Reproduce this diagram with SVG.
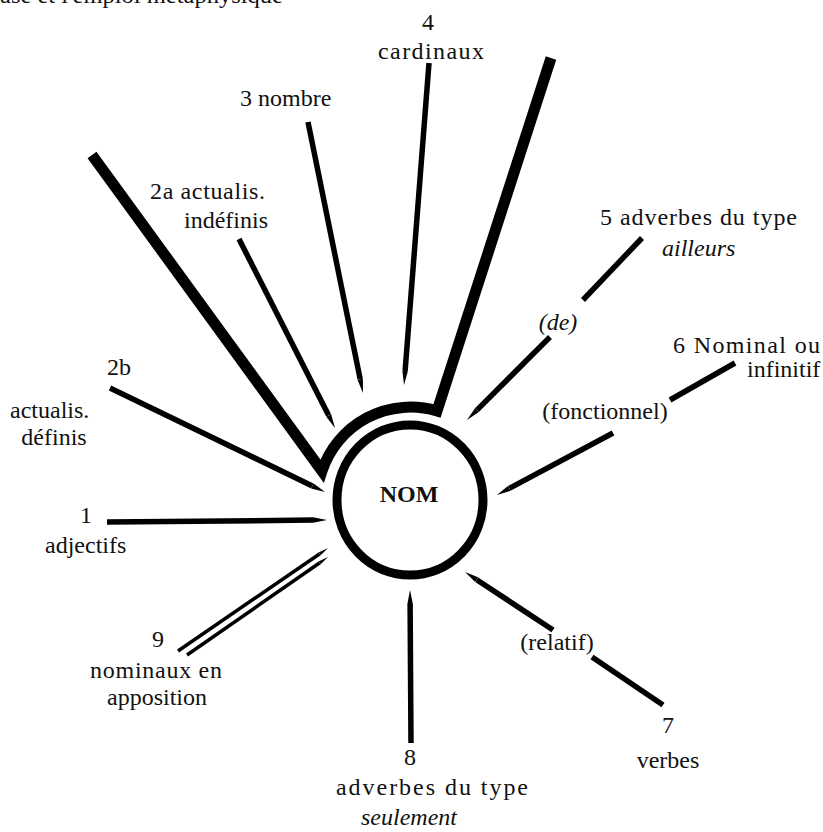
<svg xmlns="http://www.w3.org/2000/svg" width="823" height="832" viewBox="0 0 823 832">
<style>
text{font-family:"Liberation Serif","Times New Roman",serif;font-size:24px;fill:#111}
.it{font-style:italic}
.c{text-anchor:middle}
.ln{stroke:#000;stroke-width:5.5;fill:none;stroke-linecap:butt}
.tp{marker-end:url(#tip)}
.th{stroke:#000;stroke-width:3.5;fill:none;marker-end:url(#tip2)}
.big{stroke:#000;stroke-width:11;fill:none;stroke-linejoin:miter}
</style>
<defs>
  <marker id="tip" markerUnits="userSpaceOnUse" viewBox="0 -3 14 6" refX="0" refY="0" markerWidth="14" markerHeight="6" orient="auto">
    <path d="M0,-2.75 L14,0 L0,2.75 z" fill="#000"/>
  </marker>
  <marker id="tip2" markerUnits="userSpaceOnUse" viewBox="0 -2 10 4" refX="0" refY="0" markerWidth="10" markerHeight="4" orient="auto">
    <path d="M0,-1.75 L10,0 L0,1.75 z" fill="#000"/>
  </marker>
</defs>
<rect width="823" height="832" fill="#fff"/>
<text x="0" y="3" textLength="283" lengthAdjust="spacingAndGlyphs">ase et l'emploi métaphysique</text>

<g id="connectors">
  <path class="big" d="M92,155 L322,471 A93,93 0 0 1 437,411 L551,58"/>
  <line class="ln tp" x1="429" y1="63" x2="405.1" y2="371"/>
  <line class="ln tp" x1="308" y1="122" x2="360.2" y2="379.3"/>
  <line class="ln tp" x1="239" y1="239" x2="328.7" y2="415.5"/>
  <line class="ln tp" x1="110" y1="388" x2="312.4" y2="485.9"/>
  <line class="ln tp" x1="107" y1="522" x2="313" y2="520.1"/>
  <line class="th" x1="178" y1="651" x2="319.8" y2="553.7"/>
  <line class="th" x1="187" y1="655" x2="319.8" y2="562.7"/>
  <line class="ln tp" x1="411" y1="743" x2="410.1" y2="604"/>
  <line class="ln tp" x1="553" y1="630" x2="476.7" y2="579.7"/>
  <line class="ln" x1="592" y1="657" x2="663" y2="705"/>
  <line class="ln tp" x1="613" y1="433" x2="509.3" y2="488.4"/>
  <line class="ln" x1="670" y1="400" x2="735" y2="363"/>
  <line class="ln" x1="642" y1="238" x2="583" y2="300"/>
  <line class="ln tp" x1="550" y1="337" x2="476.9" y2="410.1"/>
</g>

<g id="nom">
  <ellipse cx="410" cy="500" rx="73" ry="75" fill="none" stroke="#000" stroke-width="9"/>
  <text x="409" y="502" class="c" style="font-weight:bold">NOM</text>
</g>

<g id="n4">
  <text x="428" y="30" class="c">4</text>
  <text x="431" y="59" class="c" textLength="106">cardinaux</text>
</g>
<g id="n3">
  <text x="240" y="106">3 nombre</text>
</g>
<g id="n2a">
  <text x="150" y="199" textLength="115">2a actualis.</text>
  <text x="226" y="228" class="c">indéfinis</text>
</g>
<g id="n2b">
  <text x="107" y="375">2b</text>
  <text x="10" y="418">actualis.</text>
  <text x="54" y="445" class="c">définis</text>
</g>
<g id="n1">
  <text x="80" y="523">1</text>
  <text x="45" y="553">adjectifs</text>
</g>
<g id="n9">
  <text x="152" y="647">9</text>
  <text x="90" y="678" textLength="132">nominaux en</text>
  <text x="107" y="705">apposition</text>
</g>
<g id="n8">
  <text x="410" y="765" class="c">8</text>
  <text x="432" y="795" class="c" textLength="192">adverbes du type</text>
  <text x="409" y="825" class="c it">seulement</text>
</g>
<g id="n7">
  <text x="557" y="650" class="c">(relatif)</text>
  <text x="668" y="733" class="c">7</text>
  <text x="668" y="768" class="c">verbes</text>
</g>
<g id="n6">
  <text x="605" y="419" class="c">(fonctionnel)</text>
  <text x="673" y="353" textLength="147">6 Nominal ou</text>
  <text x="747" y="377">infinitif</text>
</g>
<g id="n5">
  <text x="600" y="225" textLength="197">5 adverbes du type</text>
  <text x="662" y="256" class="it">ailleurs</text>
  <text x="558" y="330" class="c it">(de)</text>
</g>
</svg>
